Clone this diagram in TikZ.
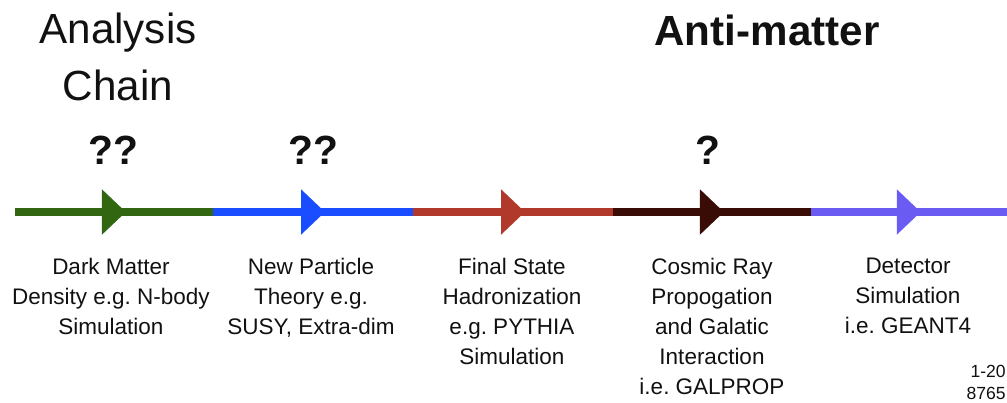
\documentclass[tikz,border=0pt]{standalone}
\usepackage{fontspec}
\setmainfont{Liberation Sans}
\setsansfont{Liberation Sans}
\usetikzlibrary{arrows.meta,decorations.markings}
\definecolor{cDM}{HTML}{336611}
\definecolor{cNP}{HTML}{1A4DFF}
\definecolor{cFS}{HTML}{B0392B}
\definecolor{cCR}{HTML}{3A0C06}
\definecolor{cDS}{HTML}{6A5CF2}
\definecolor{cInk}{HTML}{111111}
\frenchspacing

\begin{document}
\begin{tikzpicture}[x=0.25mm, y=-0.25mm, font=\sffamily,
  seg/.style={draw=#1, line width=1.9mm, postaction={decorate},
     decoration={markings, mark=at position 0.56 with
       {\arrow[#1]{Triangle[length=6mm,width=11mm]}}}},
  stage/.style={align=center, anchor=north, inner sep=0pt, text=cInk,
     font=\sffamily\fontsize{16}{21.3}\selectfont},
  qmark/.style={anchor=north, inner sep=0pt, text=cInk,
     font=\sffamily\bfseries\fontsize{29}{34}\selectfont},
]
\useasboundingbox (0,0) rectangle (1007,402);

% =================== HEADINGS ===================
\node[align=center, anchor=north, inner sep=0pt, text=cInk,
      font=\sffamily\fontsize{30}{40.5}\selectfont] (chain) at (118,13)
  {Analysis\\Chain};
\node[anchor=north, inner sep=0pt, text=cInk,
      font=\sffamily\bfseries\fontsize{30}{36}\selectfont] (anti) at (767,15)
  {Anti-matter};

\node[qmark] (q1) at (113,136) {??};
\node[qmark] (q2) at (313,136) {??};
\node[qmark] (q3) at (708,136) {?};

% =================== CHAIN ===================
\coordinate (p0) at (15,212);
\coordinate (p1) at (213,212);
\coordinate (p2) at (413,212);
\coordinate (p3) at (613,212);
\coordinate (p4) at (811,212);
\coordinate (p5) at (1007,212);

\draw[seg=cDM] (p0) -- (p1);
\draw[seg=cNP] (p1) -- (p2);
\draw[seg=cFS] (p2) -- (p3);
\draw[seg=cCR] (p3) -- (p4);
\draw[seg=cDS] (p4) -- (p5);

\node[stage] (dm) at (111,258) {Dark Matter\\Density e.g. N-body\\Simulation};
\node[stage] (np) at (311,258) {New Particle\\Theory e.g.\\SUSY, Extra-dim};
\node[stage] (fs) at (512,258) {Final State\\Hadronization\\e.g. PYTHIA\\Simulation};
\node[stage] (cr) at (712,258) {Cosmic Ray\\Propogation\\and Galatic\\Interaction\\i.e. GALPROP};
\node[stage] (ds) at (908,258) {Detector\\Simulation\\i.e. GEANT4};

% slide number
\node[align=right, anchor=north east, inner sep=0pt, text=cInk,
      font=\sffamily\fontsize{12.5}{15.6}\selectfont] (num) at (1006,365)
  {1-20\\8765};

\end{tikzpicture}
\end{document}
